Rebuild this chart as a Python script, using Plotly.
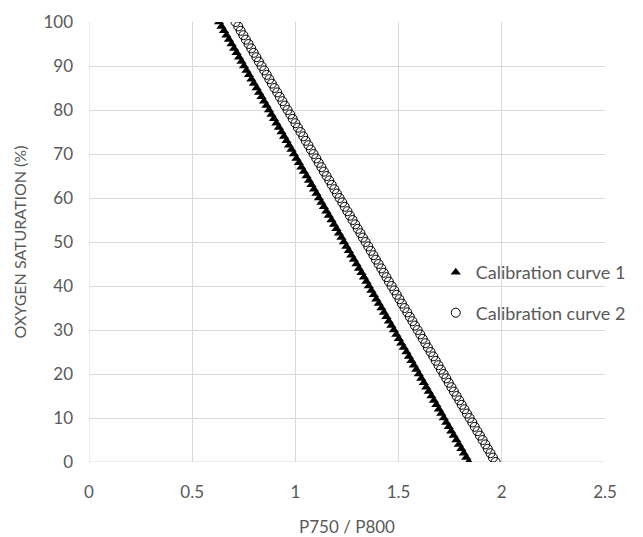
import plotly.graph_objects as go

saturation = list(range(0, 101))

curve1_ratio = [
    1.840, 1.828, 1.816, 1.804, 1.792, 1.780, 1.767, 1.755, 1.743, 1.731,
    1.719, 1.707, 1.695, 1.683, 1.671, 1.659, 1.646, 1.634, 1.622, 1.610,
    1.598, 1.586, 1.574, 1.562, 1.550, 1.538, 1.525, 1.513, 1.501, 1.489,
    1.477, 1.465, 1.453, 1.441, 1.429, 1.417, 1.404, 1.392, 1.380, 1.368,
    1.356, 1.344, 1.332, 1.320, 1.308, 1.296, 1.283, 1.271, 1.259, 1.247,
    1.235, 1.223, 1.211, 1.199, 1.187, 1.175, 1.162, 1.150, 1.138, 1.126,
    1.114, 1.102, 1.090, 1.078, 1.066, 1.054, 1.041, 1.029, 1.017, 1.005,
    0.993, 0.981, 0.969, 0.957, 0.945, 0.933, 0.920, 0.908, 0.896, 0.884,
    0.872, 0.860, 0.848, 0.836, 0.824, 0.812, 0.799, 0.787, 0.775, 0.763,
    0.751, 0.739, 0.727, 0.715, 0.703, 0.691, 0.678, 0.666, 0.654, 0.642,
    0.630,
]

curve2_ratio = [
    1.970, 1.957, 1.945, 1.932, 1.920, 1.907, 1.894, 1.882, 1.869, 1.857,
    1.844, 1.831, 1.819, 1.806, 1.794, 1.781, 1.768, 1.756, 1.743, 1.731,
    1.718, 1.705, 1.693, 1.680, 1.668, 1.655, 1.642, 1.630, 1.617, 1.605,
    1.592, 1.579, 1.567, 1.554, 1.542, 1.529, 1.516, 1.504, 1.491, 1.479,
    1.466, 1.453, 1.441, 1.428, 1.416, 1.403, 1.390, 1.378, 1.365, 1.353,
    1.340, 1.327, 1.315, 1.302, 1.290, 1.277, 1.264, 1.252, 1.239, 1.227,
    1.214, 1.201, 1.189, 1.176, 1.164, 1.151, 1.138, 1.126, 1.113, 1.101,
    1.088, 1.075, 1.063, 1.050, 1.038, 1.025, 1.012, 1.000, 0.987, 0.975,
    0.962, 0.949, 0.937, 0.924, 0.912, 0.899, 0.886, 0.874, 0.861, 0.849,
    0.836, 0.823, 0.811, 0.798, 0.786, 0.773, 0.760, 0.748, 0.735, 0.723,
    0.710,
]

x_ticks = [0, 0.5, 1, 1.5, 2, 2.5]
y_ticks = list(range(0, 101, 10))

FONT = "Lato, 'Open Sans', sans-serif"
GRAY = "#595959"
GRID = "#d9d9d9"

fig = go.Figure()
fig.add_trace(go.Scatter(
    x=curve1_ratio, y=saturation, mode="markers", name="Calibration curve 1",
    legendgroup="c1",
    marker=dict(symbol="triangle-up", size=9, color="black",
                line=dict(width=0)),
))
fig.add_trace(go.Scatter(
    x=curve2_ratio, y=saturation, mode="markers", name="Calibration curve 2",
    legendgroup="c2",
    marker=dict(symbol="circle-open", size=9, color="black",
                line=dict(width=1, color="black")),
))

fig.update_layout(
    width=643, height=537,
    margin=dict(l=89, r=33, t=22, b=75),
    paper_bgcolor="white", plot_bgcolor="white",
    font=dict(family=FONT, size=17, color=GRAY),
    showlegend=True,
    legend=dict(x=0.672, y=0.385, xanchor="left", yanchor="middle",
                bgcolor="rgba(0,0,0,0)", font=dict(size=18, color=GRAY),
                traceorder="grouped", tracegroupgap=14, itemwidth=30),
    xaxis=dict(range=[0, 2.5], tickvals=x_ticks, ticktext=[str(v) for v in x_ticks],
               showgrid=True, gridcolor=GRID, gridwidth=1, zeroline=False,
               showline=False, ticks="", ticklabelstandoff=18, automargin=False,
               title=dict(text="P750 / P800", font=dict(size=17, color=GRAY), standoff=20),
               tickfont=dict(size=17, color=GRAY)),
    yaxis=dict(range=[0, 100], tickvals=y_ticks,
               showgrid=True, gridcolor=GRID, gridwidth=1, zeroline=False,
               showline=False, ticks="", ticklabelstandoff=15, automargin=False,
               title=dict(text="OXYGEN SATURATION (%)", font=dict(size=16, color=GRAY), standoff=12),
               tickfont=dict(size=17, color=GRAY)),
)
fig.add_shape(type="line", xref="x", yref="paper", x0=0, x1=0, y0=0, y1=1,
              line=dict(color=GRID, width=1), layer="below")
fig.add_shape(type="line", xref="paper", yref="y", x0=0, x1=1, y0=0, y1=0,
              line=dict(color=GRID, width=1), layer="below")

fig.write_html("out.html")
